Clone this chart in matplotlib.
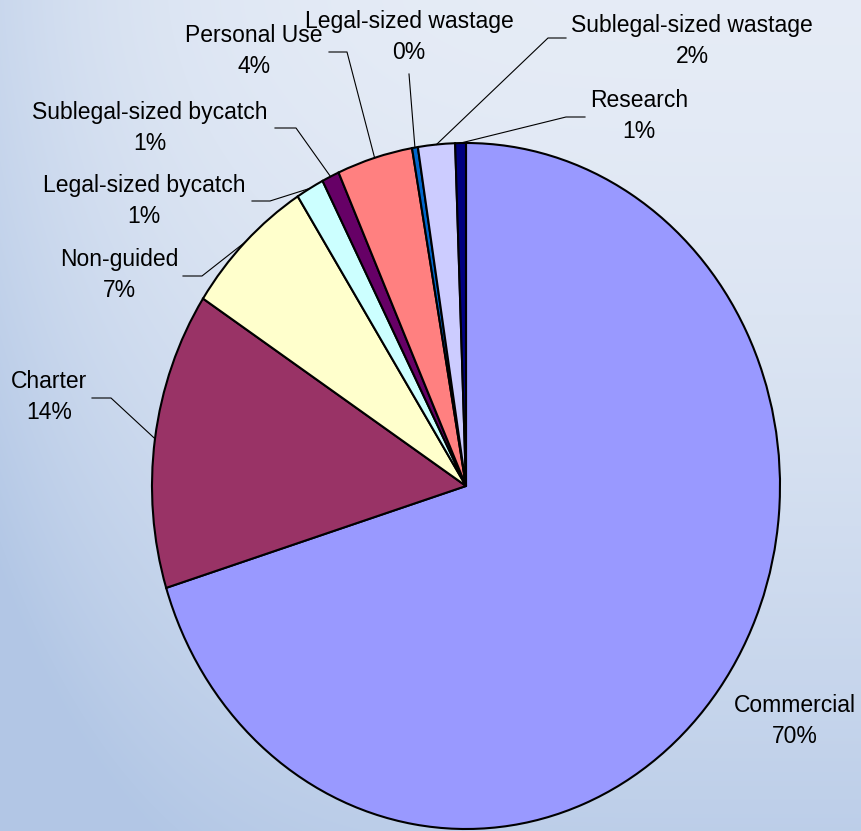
import numpy as np
import matplotlib.pyplot as plt

plt.rcParams["font.family"] = ["Liberation Sans", "DejaVu Sans"]

# data
categories = ["Commercial", "Charter", "Non-guided", "Legal-sized bycatch",
              "Sublegal-sized bycatch", "Personal Use", "Legal-sized wastage",
              "Sublegal-sized wastage", "Research"]
shares = [70.2, 14.0, 6.8, 1.45, 0.9, 3.9, 0.3, 1.9, 0.55]
colors = ["#9999FF", "#993366", "#FFFFCC", "#CCFFFF", "#660066",
          "#FF8080", "#0066CC", "#CCCCFF", "#000080"]

# layout in image pixels (x right, y down)
W, H = 861, 831
CX, CY, RX, RY = 466, 486, 314, 343
label_pos = {
    "Commercial": (795, 721),
    "Charter": (49, 397),
    "Non-guided": (119, 275),
    "Legal-sized bycatch": (144, 201),
    "Sublegal-sized bycatch": (150, 128),
    "Personal Use": (254, 51),
    "Legal-sized wastage": (409, 37),
    "Sublegal-sized wastage": (692, 41),
    "Research": (639, 116),
}
# (line start next to the text, elbow)
leader = {
    "Charter": ((92, 398), (111, 398)),
    "Non-guided": ((183, 276), (202, 276)),
    "Legal-sized bycatch": ((252, 201), (270, 201)),
    "Sublegal-sized bycatch": ((275, 128), (296, 128)),
    "Personal Use": ((329, 52), (347, 52)),
    "Legal-sized wastage": ((409, 74), (409, 74)),
    "Sublegal-sized wastage": ((566, 38), (548, 38)),
    "Research": ((585, 117), (566, 117)),
}


def px(x, y):
    return (x - CX) / RX, (CY - y) / RY


fig = plt.figure(figsize=(W / 100, H / 100), dpi=100)

# background gradient
bg = fig.add_axes([0, 0, 1, 1])
yy, xx = np.mgrid[0:H, 0:W]
t = np.clip(0.8 * (yy / H) ** 1.5 + 0.55 * (1 - xx / W) ** 5, 0, 1)[..., None]
light = np.array([0.90, 0.925, 0.965])
dark = np.array([0.70, 0.78, 0.90])
bg.imshow(light * (1 - t) + dark * t, aspect="auto", extent=[0, W, H, 0])
bg.axis("off")

ax = fig.add_axes([0, 0, 1, 1])
ax.patch.set_alpha(0)
ax.pie(shares, colors=colors, startangle=90, counterclock=False,
       wedgeprops=dict(edgecolor="black", linewidth=1.5))
ax.set_aspect("auto")
ax.set_xlim(px(0, 0)[0], px(W, 0)[0])
ax.set_ylim(px(0, H)[1], px(0, 0)[1])
ax.axis("off")

total = sum(shares)
cum = 0.0
for name, val in zip(categories, shares):
    mid = np.deg2rad((cum + val / 2) / total * 360)
    cum += val
    pct = f"{round(val / total * 100):.0f}%"
    tx, ty = px(*label_pos[name])
    ax.text(tx, ty, f"{name}\n{pct}", ha="center", va="center",
            fontsize=16.5, linespacing=1.45, color="black")
    if name in leader:
        (sx, sy), (ex, ey) = px(*leader[name][0]), px(*leader[name][1])
        ax.plot([sx, ex, np.sin(mid)], [sy, ey, np.cos(mid)],
                color="black", lw=0.8)

fig.savefig("out.png", dpi=100)
